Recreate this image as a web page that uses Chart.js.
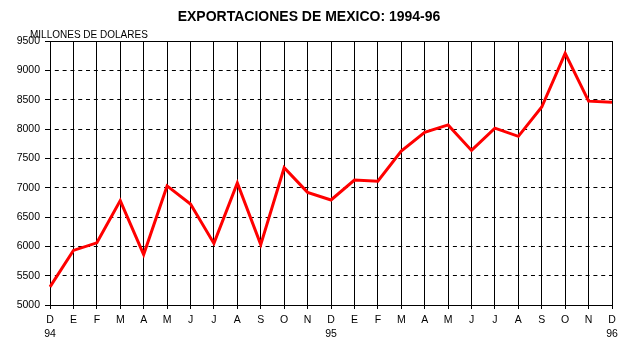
<!DOCTYPE html>
<html>
<head>
<meta charset="utf-8">
<script src="https://cdn.jsdelivr.net/npm/chart.js@4/dist/chart.umd.min.js"></script>
<style>
  html, body { margin: 0; padding: 0; background: #fff; }
  #wrap { position: relative; width: 639px; height: 359px; overflow: hidden; }
  #unit {
    position: absolute; left: 30px; top: 30px; width: 118px; overflow: hidden;
    white-space: nowrap; font: 10px/10px "Liberation Sans", Arial, sans-serif; color: #000;
  }
</style>
</head>
<body>
<div id="wrap">
  <canvas id="c" width="639" height="359"></canvas>
  <div id="unit">MILLONES DE DOLARES</div>
</div>
<script>
const months = ["D","E","F","M","A","M","J","J","A","S","O","N","D","E","F","M","A","M","J","J","A","S","O","N","D"];
const yearLabels = {0: "94", 12: "95", 24: "96"};
const exportsValues = [5310, 5930, 6060, 6780, 5860, 7030, 6720, 6050, 7080, 6030, 7340, 6920,
                       6790, 7130, 7110, 7625, 7945, 8070, 7635, 8015, 7875, 8375, 9290, 8475, 8455];
const yMin = 5000, yMax = 9500, yStep = 500;
const titleText = "EXPORTACIONES DE MEXICO: 1994-96";

const labels = months.map((m, i) => yearLabels[i] !== undefined ? [m, yearLabels[i]] : [m, ""]);
const FONT = "'Liberation Sans', Arial, sans-serif";

new Chart(document.getElementById('c'), {
  type: 'line',
  data: {
    labels: labels,
    datasets: [{
      data: exportsValues,
      borderColor: '#ff0000',
      borderWidth: 3,
      pointRadius: 0,
      tension: 0,
      fill: false
    }]
  },
  options: {
    responsive: false,
    animation: false,
    layout: { padding: { left: 6, right: 27, top: 0, bottom: 0 } },
    plugins: {
      legend: { display: false },
      tooltip: { enabled: false },
      title: {
        display: true,
        text: titleText,
        color: '#000',
        font: { family: FONT, size: 14, weight: 'bold', lineHeight: 1.2 },
        padding: { top: 9, bottom: 15.2 }
      }
    },
    scales: {
      x: {
        type: 'category',
        offset: false,
        grid: {
          display: true, color: '#000', lineWidth: 1,
          drawTicks: true, tickLength: 4, tickColor: '#000', offset: false
        },
        border: { display: true, color: '#000', width: 1 },
        ticks: {
          autoSkip: false, maxRotation: 0, minRotation: 0, padding: 4, color: '#000',
          font: { family: FONT, size: 10.5, lineHeight: '14px' }
        },
        afterFit: (scale) => { scale.height = 54; }
      },
      y: {
        min: yMin, max: yMax,
        grid: {
          display: true, color: '#000', lineWidth: 1,
          drawTicks: true, tickLength: 5, tickColor: '#000'
        },
        border: {
          display: true, color: '#000', width: 1,
          dash: (ctx) => (ctx.tick && ctx.tick.value === yMax) ? [] : [4, 3.806],
          dashOffset: 4
        },
        ticks: {
          stepSize: yStep, padding: 5, color: '#000',
          font: { family: FONT, size: 10.5 },
          callback: (v) => String(v)
        },
        afterFit: (scale) => { scale.width = 44; }
      }
    }
  }
});
</script>
</body>
</html>
